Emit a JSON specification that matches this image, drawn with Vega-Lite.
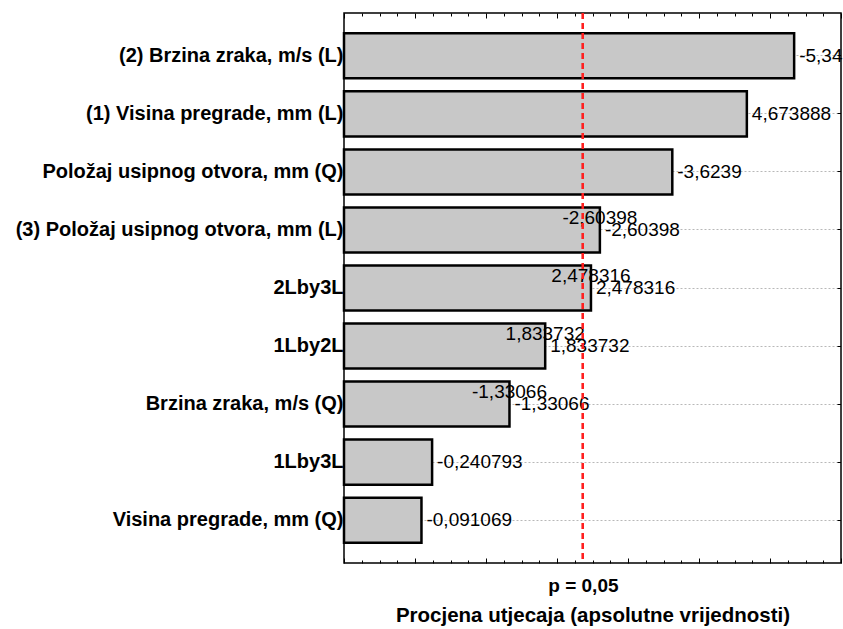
{
  "$schema": "https://vega.github.io/schema/vega-lite/v6.json",
  "width": 497,
  "height": 550,
  "autosize": {"type": "none"},
  "padding": {"left": 344, "top": 13, "right": 2, "bottom": 66},
  "background": "white",
  "config": {
    "view": {"stroke": "black", "strokeWidth": 1.5},
    "font": "Liberation Sans"
  },
  "data": {
    "values": [
      {"term": "(2) Brzina zraka, m/s (L)", "effect": 5.34, "label": "-5,34"},
      {"term": "(1) Visina pregrade, mm (L)", "effect": 4.673888, "label": "4,673888"},
      {"term": "Položaj usipnog otvora, mm (Q)", "effect": 3.6239, "label": "-3,6239"},
      {"term": "(3) Položaj usipnog otvora, mm (L)", "effect": 2.60398, "label": "-2,60398"},
      {"term": "2Lby3L", "effect": 2.478316, "label": "2,478316"},
      {"term": "1Lby2L", "effect": 1.833732, "label": "1,833732"},
      {"term": "Brzina zraka, m/s (Q)", "effect": 1.33066, "label": "-1,33066"},
      {"term": "1Lby3L", "effect": 0.240793, "label": "-0,240793"},
      {"term": "Visina pregrade, mm (Q)", "effect": 0.091069, "label": "-0,091069"}
    ]
  },
  "resolve": {"axis": {"x": "independent", "y": "independent"}},
  "layer": [
    {
      "mark": {"type": "bar", "fill": "#c8c8c8", "stroke": "black", "strokeWidth": 2.5},
      "encoding": {
        "y": {
          "field": "term", "type": "nominal", "sort": null,
          "scale": {"paddingInner": 0.224, "paddingOuter": 0.35},
          "axis": {
            "title": null, "orient": "left", "bandPosition": 0.5,
            "labelFont": "Liberation Sans", "labelFontWeight": "bold", "labelFontSize": 20,
            "labelColor": "black", "labelLimit": 400, "labelPadding": 4,
            "ticks": true, "tickSize": -3, "tickColor": "black",
            "domain": false,
            "grid": true, "gridColor": "#b8b8b8", "gridDash": [2, 2], "gridWidth": 1
          }
        },
        "x": {
          "field": "effect", "type": "quantitative",
          "scale": {"domain": [-1, 6], "nice": false, "zero": false},
          "axis": {
            "orient": "bottom", "values": [2.365], "labelExpr": "'p = 0,05'",
            "ticks": false, "domain": false, "grid": false,
            "labelFont": "Liberation Sans", "labelFontWeight": "bold", "labelFontSize": 19,
            "labelColor": "black", "labelPadding": 13,
            "title": "Procjena utjecaja (apsolutne vrijednosti)",
            "titleFont": "Liberation Sans", "titleFontWeight": "bold", "titleFontSize": 20.5,
            "titleColor": "black", "titlePadding": 10
          }
        },
        "x2": {"datum": -1}
      }
    },
    {
      "mark": {"type": "text", "align": "left", "baseline": "middle", "dx": 5, "fontSize": 19, "font": "Liberation Sans", "color": "black"},
      "encoding": {
        "y": {
          "field": "term", "type": "nominal", "sort": null,
          "axis": {"orient": "right", "labels": false, "title": null, "domain": false, "grid": false, "bandPosition": 0.5, "tickSize": -4, "tickColor": "black"}
        },
        "x": {
          "field": "effect", "type": "quantitative",
          "axis": {
            "orient": "bottom", "labels": false, "title": null, "domain": false, "grid": false,
            "values": [-1, -0.75, -0.5, -0.25, 0, 0.25, 0.5, 0.75, 1, 1.25, 1.5, 1.75, 2, 2.25, 2.5, 2.75, 3, 3.25, 3.5, 3.75, 4, 4.25, 4.5, 4.75, 5, 5.25, 5.5, 5.75, 6],
            "tickColor": "black",
            "tickSize": {"condition": {"test": "datum.value % 1 === 0", "value": -5}, "value": -3}
          }
        },
        "text": {"field": "label"}
      }
    },
    {
      "transform": [{"filter": "datum.effect > 1 && datum.effect < 3"}],
      "mark": {"type": "text", "align": "center", "baseline": "middle", "dy": -12, "fontSize": 19, "font": "Liberation Sans", "color": "black"},
      "encoding": {
        "y": {"field": "term", "type": "nominal", "sort": null, "axis": null},
        "x": {
          "field": "effect", "type": "quantitative",
          "axis": {
            "orient": "top", "labels": false, "title": null, "domain": false, "grid": false,
            "values": [-1, -0.75, -0.5, -0.25, 0, 0.25, 0.5, 0.75, 1, 1.25, 1.5, 1.75, 2, 2.25, 2.5, 2.75, 3, 3.25, 3.5, 3.75, 4, 4.25, 4.5, 4.75, 5, 5.25, 5.5, 5.75, 6],
            "tickColor": "black",
            "tickSize": {"condition": {"test": "datum.value % 1 === 0", "value": -5}, "value": -3}
          }
        },
        "text": {"field": "label"}
      }
    },
    {
      "mark": {"type": "rule", "color": "#ff2020", "strokeWidth": 2, "strokeDash": [6, 4]},
      "encoding": {
        "x": {"datum": 2.365, "type": "quantitative", "axis": null}
      }
    }
  ]
}
